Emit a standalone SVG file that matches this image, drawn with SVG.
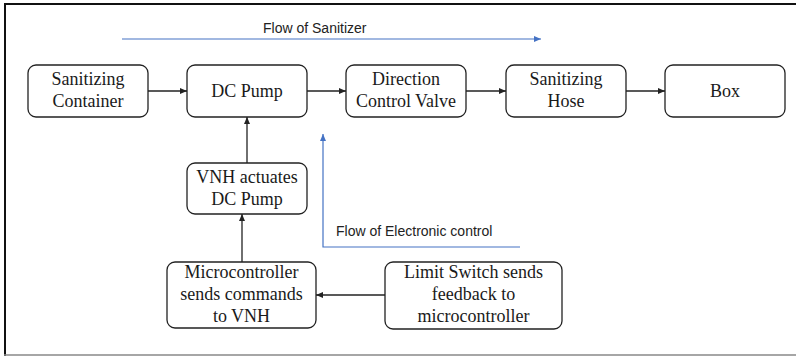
<svg xmlns="http://www.w3.org/2000/svg" width="796" height="356" viewBox="0 0 796 356">
<style>
.box{fill:#fff;stroke:#222;stroke-width:1.3}
.t{font-family:"Liberation Serif","Times New Roman",serif;font-size:18px;fill:#1a1a1a;text-anchor:middle}
.b{font-family:"Liberation Sans",Arial,sans-serif;font-size:14px;fill:#222}
.c{stroke:#222;stroke-width:1.3;fill:none}
.bl{stroke:#4472c4;stroke-width:1.2;fill:none}
</style>
<defs>
<marker id="ah" markerWidth="7" markerHeight="6" refX="7" refY="3" orient="auto" markerUnits="userSpaceOnUse"><path d="M0,0 L7,3 L0,6 Z" fill="#222"/></marker>
<marker id="ab" markerWidth="7" markerHeight="6" refX="7" refY="3" orient="auto" markerUnits="userSpaceOnUse"><path d="M0,0 L7,3 L0,6 Z" fill="#4472c4"/></marker>
</defs>
<rect x="0" y="0" width="796" height="356" fill="#fff"/>
<line x1="4" y1="4" x2="796" y2="4" stroke="#111" stroke-width="2"/>
<line x1="5" y1="3" x2="5" y2="356" stroke="#111" stroke-width="2"/>
<line x1="4" y1="355" x2="796" y2="355" stroke="#888" stroke-width="1.5"/>
<g id="connectors">
<line class="c" x1="148" y1="91" x2="187" y2="91" marker-end="url(#ah)"/>
<line class="c" x1="307" y1="91" x2="346" y2="91" marker-end="url(#ah)"/>
<line class="c" x1="466" y1="91" x2="506" y2="91" marker-end="url(#ah)"/>
<line class="c" x1="626" y1="91" x2="665" y2="91" marker-end="url(#ah)"/>
<line class="c" x1="247" y1="163" x2="247" y2="117" marker-end="url(#ah)"/>
<line class="c" x1="242" y1="262" x2="242" y2="214" marker-end="url(#ah)"/>
<line class="c" x1="385" y1="295" x2="316" y2="295" marker-end="url(#ah)"/>
<line class="bl" x1="122" y1="39" x2="541" y2="39" marker-end="url(#ab)"/>
<polyline class="bl" points="520,247 323,247 323,134" marker-end="url(#ab)"/>
</g>
<g id="flow-sanitizer-label"><text class="b" x="263" y="33">Flow of Sanitizer</text></g>
<g id="flow-electronic-label"><text class="b" x="336" y="236">Flow of Electronic control</text></g>
<g id="sanitizing-container"><rect class="box" x="28" y="65" width="120" height="52" rx="8"/><text class="t" x="88" y="85">Sanitizing</text><text class="t" x="88" y="107">Container</text></g>
<g id="dc-pump"><rect class="box" x="187" y="65" width="120" height="52" rx="8"/><text class="t" x="247" y="97">DC Pump</text></g>
<g id="direction-control-valve"><rect class="box" x="346" y="65" width="120" height="52" rx="8"/><text class="t" x="406" y="85">Direction</text><text class="t" x="406" y="107">Control Valve</text></g>
<g id="sanitizing-hose"><rect class="box" x="506" y="65" width="120" height="52" rx="8"/><text class="t" x="566" y="85">Sanitizing</text><text class="t" x="566" y="107">Hose</text></g>
<g id="box"><rect class="box" x="665" y="65" width="120" height="52" rx="8"/><text class="t" x="725" y="97">Box</text></g>
<g id="vnh"><rect class="box" x="187" y="163" width="120" height="51" rx="8"/><text class="t" x="247" y="183">VNH actuates</text><text class="t" x="247" y="205">DC Pump</text></g>
<g id="microcontroller"><rect class="box" x="167" y="262" width="149" height="66" rx="8"/><text class="t" x="241.5" y="278">Microcontroller</text><text class="t" x="241.5" y="300">sends commands</text><text class="t" x="241.5" y="322">to VNH</text></g>
<g id="limit-switch"><rect class="box" x="385" y="262" width="177" height="67" rx="8"/><text class="t" x="473.5" y="278">Limit Switch sends</text><text class="t" x="473.5" y="300">feedback to</text><text class="t" x="473.5" y="322">microcontroller</text></g>
</svg>
